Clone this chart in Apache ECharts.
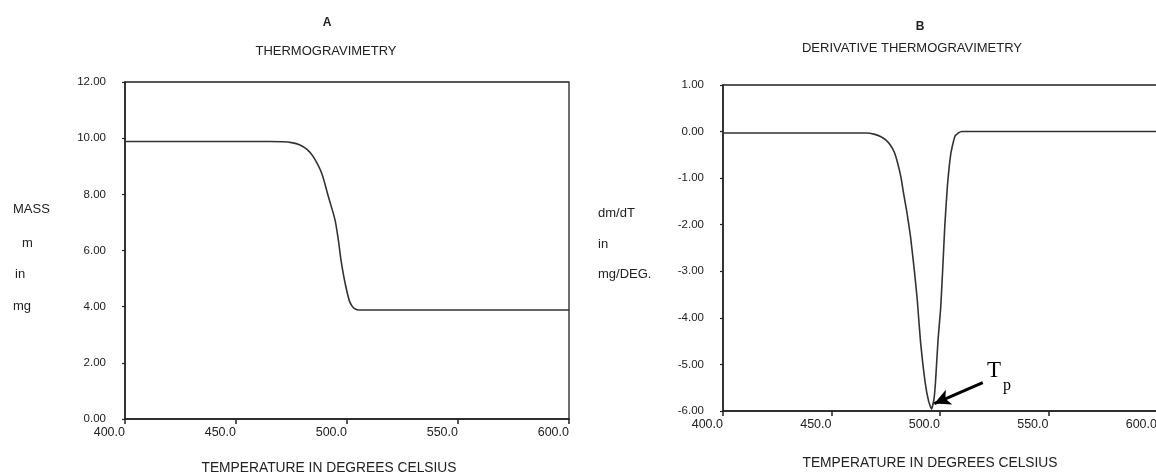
<!DOCTYPE html>
<html>
<head>
<meta charset="utf-8">
<script src="https://cdn.jsdelivr.net/npm/echarts@6/dist/echarts.min.js"></script>
<style>
html,body{margin:0;padding:0;background:#fff;}
#chart{width:1156px;height:475px;}
</style>
</head>
<body>
<div id="chart"></div>
<script>
// Panel A: thermogravimetry (mass in mg vs temperature)
const tgaT = [400, 440, 465, 471, 475, 478.8, 482, 484.8, 488.6, 491.6, 494.6, 496.1, 497.3, 498.5, 499.5, 500.4, 501.2, 502.3, 503.4, 504.5, 506, 550, 600];
const tgaM = [9.88, 9.88, 9.88, 9.87, 9.84, 9.76, 9.60, 9.34, 8.75, 7.92, 7.09, 6.37, 5.66, 5.10, 4.71, 4.40, 4.18, 4.02, 3.93, 3.89, 3.88, 3.88, 3.88];
// Panel B: derivative thermogravimetry (dm/dT in mg/deg vs temperature)
const dtgT = [400, 440, 460, 466, 470, 472.8, 475, 477.1, 479, 480.5, 482, 483.3, 484.7, 486.4, 488.1, 489.5, 491, 493.2, 494.8, 496.1, 497.2, 497.9, 499.1, 500.3, 501.2, 502.2, 503.4, 505, 506.8, 508.5, 510, 530, 570, 600];
const dtgV = [-0.03, -0.03, -0.03, -0.03, -0.06, -0.11, -0.18, -0.29, -0.45, -0.68, -0.98, -1.35, -1.72, -2.25, -2.95, -3.6, -4.5, -5.4, -5.8, -5.96, -5.75, -5.4, -4.47, -3.8, -3.0, -2.04, -1.18, -0.47, -0.11, -0.03, 0.0, 0.0, 0.0, 0.0];
// Peak annotation (Tp)
const tpArrowFrom = [519.7, -5.39];
const tpArrowTo = [497.4, -5.84];
const tpTextAt = [524.9, -5.14];
const tpSubAt = [530.9, -5.46];
// Tick labels
const xTicks = [400, 450, 500, 550, 600];
const massTicks = [0, 2, 4, 6, 8, 10, 12];
const dtgTicks = [-6, -5, -4, -3, -2, -1, 0, 1];

const FONT = '"Liberation Sans", Arial, sans-serif';
const INK = '#222';

function pairs(xs, ys){ return xs.map((x,i)=>[x, ys[i]]); }

const chart = echarts.init(document.getElementById('chart'), null, {renderer:'canvas'});

function xAxisCfg(gi){
  return {
    type:'value', gridIndex:gi, min:xTicks[0], max:xTicks[xTicks.length-1], interval:50,
    axisLine:{show:true, onZero:false, lineStyle:{color:INK, width:1.5}},
    axisTick:{show:true, inside:false, length:5, lineStyle:{color:INK, width:1.5}},
    axisLabel:{show:true, color:INK, fontFamily:FONT, fontSize:12.5, margin:7, align:'right',
      formatter:v=>v.toFixed(1)},
    splitLine:{show:false}
  };
}
function yAxisCfg(gi, ticks, interval){
  return {
    type:'value', gridIndex:gi, min:ticks[0], max:ticks[ticks.length-1], interval:interval,
    axisLine:{show:true, onZero:false, lineStyle:{color:INK, width:1.5}},
    axisTick:{show:true, inside:false, length:3, lineStyle:{color:INK, width:1.2}},
    axisLabel:{show:true, color:INK, fontFamily:FONT, fontSize:11.5, margin:19, padding:[0,0,6,0],
      formatter:v=>v.toFixed(2)},
    splitLine:{show:false}
  };
}

function txt(text, x, y, size, opts){
  opts = opts || {};
  return {type:'text', x:x, y:y, silent:true, z:100,
    style:{text:text, fill:INK, font:(opts.bold?'bold ':'')+size+'px '+FONT,
      align:opts.align||'center', verticalAlign:'middle'}};
}

const option = {
  animation:false,
  backgroundColor:'#fff',
  grid:[
    {left:125, top:82, width:444, height:337, show:true, borderColor:INK, borderWidth:1.3, containLabel:false, outerBoundsMode:'none'},
    {left:723, top:85, width:434, height:326, show:true, borderColor:INK, borderWidth:1.3, containLabel:false, outerBoundsMode:'none'}
  ],
  xAxis:[xAxisCfg(0), xAxisCfg(1)],
  yAxis:[yAxisCfg(0, massTicks, 2), yAxisCfg(1, dtgTicks, 1)],
  series:[
    {type:'line', xAxisIndex:0, yAxisIndex:0, data:pairs(tgaT, tgaM), showSymbol:false, smooth:0.25,
      lineStyle:{color:'#333', width:1.6}},
    {type:'line', xAxisIndex:1, yAxisIndex:1, data:pairs(dtgT, dtgV), showSymbol:false, smooth:0.15,
      lineStyle:{color:'#333', width:1.6},
      markLine:{silent:true, symbol:['none','arrow'], symbolSize:[12,16], animation:false,
        lineStyle:{color:'#000', width:3, type:'solid'}, label:{show:false},
        data:[[{coord:tpArrowFrom},{coord:tpArrowTo}]]},
      markPoint:{silent:true, symbol:'circle', symbolSize:1, itemStyle:{color:'rgba(0,0,0,0)'}, animation:false,
        data:[
          {coord:tpTextAt, label:{show:true, position:'inside', formatter:'T', color:'#000',
            fontFamily:'"Liberation Serif", "Times New Roman", serif', fontSize:23}},
          {coord:tpSubAt, label:{show:true, position:'inside', formatter:'p', color:'#000',
            fontFamily:'"Liberation Serif", "Times New Roman", serif', fontSize:16}}
        ]}
    }
  ],
  graphic:[
    txt('A', 327, 23, 12, {bold:true}),
    txt('THERMOGRAVIMETRY', 326, 51, 13),
    txt('B', 920, 27, 12, {bold:true}),
    txt('DERIVATIVE THERMOGRAVIMETRY', 912, 48, 13),
    txt('TEMPERATURE IN DEGREES CELSIUS', 329, 468, 13.8),
    txt('TEMPERATURE IN DEGREES CELSIUS', 930, 463, 13.8),
    txt('MASS', 13, 209, 13, {align:'left'}),
    txt('m', 22, 243, 13, {align:'left'}),
    txt('in', 15, 274, 13, {align:'left'}),
    txt('mg', 13, 306, 13, {align:'left'}),
    txt('dm/dT', 598, 213, 13, {align:'left'}),
    txt('in', 598, 244, 13, {align:'left'}),
    txt('mg/DEG.', 598, 274, 13, {align:'left'})
  ]
};
chart.setOption(option);
</script>
</body>
</html>
